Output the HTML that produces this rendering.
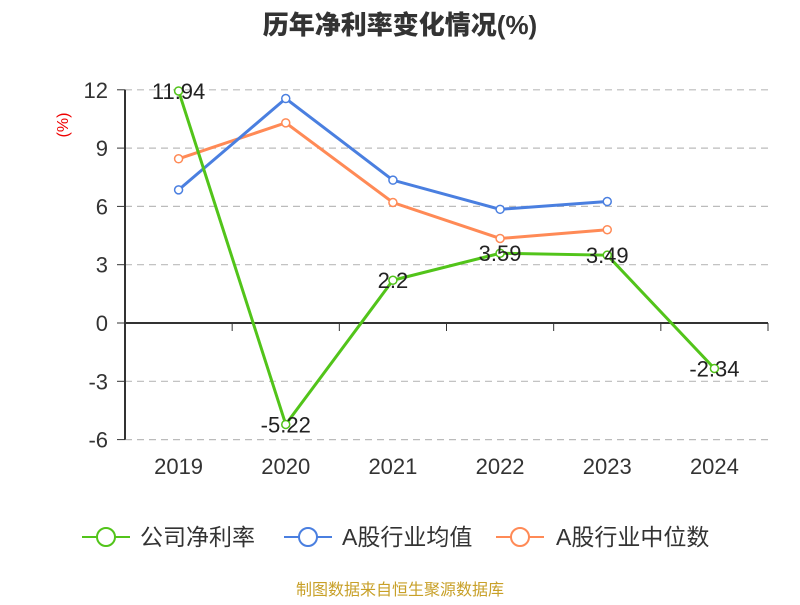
<!DOCTYPE html>
<html><head><meta charset="utf-8"><style>
body{margin:0;background:#fff;width:800px;height:600px;overflow:hidden;font-family:"Liberation Sans","Noto Sans CJK SC",sans-serif}
</style></head><body>
<svg id="c" width="800" height="600" xmlns="http://www.w3.org/2000/svg">
<text x="400" y="34" text-anchor="middle" font-size="26" font-weight="900" fill="#333" font-family="Liberation Sans,Noto Sans CJK SC,sans-serif">历年净利率变化情况(%)</text>
<text transform="translate(68,125) rotate(-90)" text-anchor="middle" font-size="16" fill="#e00">(%)</text>
<g id="grid"></g><g id="axes"></g><g id="series"></g>
<g>
<g><line x1="82" y1="537" x2="130" y2="537" stroke="#52c41a" stroke-width="2"/><circle cx="106" cy="537" r="9" fill="#fff" stroke="#52c41a" stroke-width="2"/><text x="140" y="545" font-size="23" fill="#333">公司净利率</text></g>
<g><line x1="284" y1="537" x2="332" y2="537" stroke="#4a7fe0" stroke-width="2"/><circle cx="308" cy="537" r="9" fill="#fff" stroke="#4a7fe0" stroke-width="2"/><text x="342" y="545" font-size="23" fill="#333">A股行业均值</text></g>
<g><line x1="496" y1="537" x2="544" y2="537" stroke="#ff8a56" stroke-width="2"/><circle cx="520" cy="537" r="9" fill="#fff" stroke="#ff8a56" stroke-width="2"/><text x="556" y="545" font-size="23" fill="#333">A股行业中位数</text></g>
</g>
<text x="400" y="595" text-anchor="middle" font-size="16" fill="#c8a028">制图数据来自恒生聚源数据库</text>
</svg>
<script>
const categories=["2019","2020","2021","2022","2023","2024"];
const companyValues=[11.94,-5.22,2.2,3.59,3.49,-2.34];
const companyLabels=["11.94","-5.22","2.2","3.59","3.49","-2.34"];
const avgValues=[6.85,11.55,7.35,5.85,6.25,null];
const medianValues=[8.45,10.3,6.2,4.35,4.8,null];
const yTicks=[12,9,6,3,0,-3,-6];
const NS="http://www.w3.org/2000/svg";
const x0=125,x1=768,bw=(x1-x0)/categories.length;
const X=i=>x0+bw*(i+0.5);
const Y=v=>323-(v/3)*58.3;
function mk(p,t,a){const e=document.createElementNS(NS,t);for(const k in a)e.setAttribute(k,a[k]);p.appendChild(e);return e;}
const grid=document.getElementById('grid'),axes=document.getElementById('axes'),ser=document.getElementById('series');
yTicks.forEach(v=>{
 if(v!==0){const g=mk(grid,'line',{x1:x0,x2:x1,y1:Y(v),y2:Y(v),stroke:'#bbb','stroke-dasharray':'7,5','stroke-width':1.2});
 
 }
 mk(axes,'line',{x1:117,x2:x0,y1:Y(v),y2:Y(v),stroke:'#333'});
 const t=mk(axes,'text',{x:108,y:Y(v)+8,'text-anchor':'end','font-size':22,fill:'#333'});t.textContent=v;
 
 
});
mk(axes,'line',{x1:x0,x2:x0,y1:Y(12),y2:Y(-6),stroke:'#333','stroke-width':2});
mk(axes,'line',{x1:x0,x2:x1,y1:Y(0),y2:Y(0),stroke:'#333','stroke-width':2});
for(let i=0;i<=categories.length;i++)mk(axes,'line',{x1:x0+bw*i,x2:x0+bw*i,y1:Y(0),y2:Y(0)+8,stroke:'#333'});
categories.forEach((c,i)=>{const t=mk(axes,'text',{x:X(i),y:474,'text-anchor':'middle','font-size':22,fill:'#333'});t.textContent=c;
 
 });
function series(vals,color,name){
 const g=mk(ser,'g',{});
 
 
 const pts=vals.map((v,i)=>v==null?null:[X(i),Y(v)]).filter(p=>p);
 mk(g,'polyline',{points:pts.map(p=>p.join(',')).join(' '),fill:'none',stroke:color,'stroke-width':3});
 pts.forEach(p=>{const c=mk(g,'circle',{cx:p[0],cy:p[1],r:4,fill:'#fff',stroke:color,'stroke-width':1.5});
 
 });
 return g;
}
series(medianValues,'#ff8a56','industry-median-line');
series(avgValues,'#4a7fe0','industry-avg-line');
const cg=series(companyValues,'#52c41a','company-line');
companyValues.forEach((v,i)=>{const t=mk(cg,'text',{x:X(i),y:Y(v)+8,'text-anchor':'middle','font-size':22,fill:'#222'});t.textContent=companyLabels[i];
 
 });
</script>
</body></html>
